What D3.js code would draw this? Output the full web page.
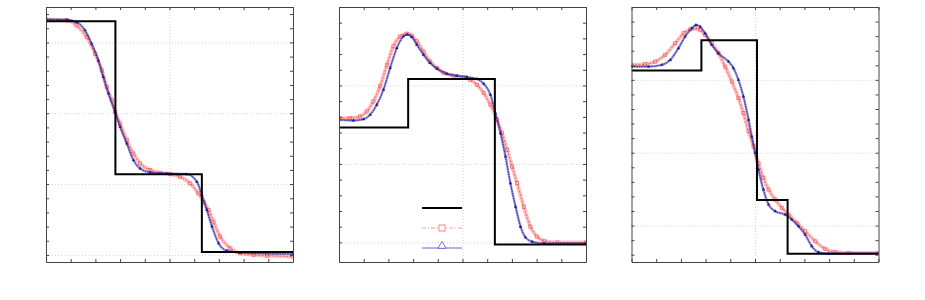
<!DOCTYPE html>
<html>
<head>
<meta charset="utf-8">
<script src="https://cdn.jsdelivr.net/npm/d3@7"></script>
<style>
  body { margin: 0; background: #fff; }
  .axis path, .axis line { stroke: #444; }
  .grid line { stroke: #d4d4d4; stroke-dasharray: 1,2; }
  .grid path { display: none; }
</style>
</head>
<body>
<svg width="925" height="300"></svg>
<script>
// x positions shared by all panels (0..1)
var xTicks = [0, 0.1, 0.2, 0.3, 0.4, 0.5, 0.6, 0.7, 0.8, 0.9, 1];
var xGrid = [0.5];

// panel 1
var p1Domain = [-0.05, 1.75];
var p1Ticks = [0, 0.1, 0.2, 0.3, 0.4, 0.5, 0.6, 0.7, 0.8, 0.9, 1, 1.1, 1.2, 1.3, 1.4, 1.5, 1.6, 1.7];
var p1Grid = [0, 0.5, 1, 1.5];
var p1ExactX = [0, 0.281, 0.631, 1];
var p1ExactY = [1.65, 0.57, 0.021, 0.021];
var p1RedX = [0, 0.084, 0.124, 0.165, 0.199, 0.226, 0.246, 0.266, 0.280, 0.300, 0.327, 0.354, 0.381, 0.422, 0.462, 0.503, 0.543, 0.584, 0.617, 0.638, 0.658, 0.678, 0.705, 0.746, 0.786, 0.840, 0.895, 1.0];
var p1RedY = [1.662, 1.655, 1.620, 1.537, 1.420, 1.303, 1.185, 1.092, 1.009, 0.927, 0.810, 0.716, 0.646, 0.599, 0.580, 0.570, 0.552, 0.505, 0.434, 0.376, 0.317, 0.235, 0.129, 0.047, 0.012, 0.0, -0.005, -0.012];
var p1BlueX = [0, 0.084, 0.124, 0.158, 0.185, 0.212, 0.232, 0.253, 0.280, 0.300, 0.327, 0.354, 0.381, 0.422, 0.489, 0.570, 0.611, 0.631, 0.651, 0.672, 0.699, 0.732, 0.786, 1.0];
var p1BlueY = [1.662, 1.660, 1.643, 1.585, 1.491, 1.373, 1.256, 1.139, 1.009, 0.904, 0.786, 0.669, 0.610, 0.582, 0.575, 0.570, 0.516, 0.423, 0.317, 0.200, 0.082, 0.030, 0.016, 0.007];

// panel 2
var p2Domain = [-0.125, 1.5];
var p2Ticks = [0, 0.1, 0.2, 0.3, 0.4, 0.5, 0.6, 0.7, 0.8, 0.9, 1, 1.1, 1.2, 1.3, 1.4];
var p2Grid = [0, 0.5, 1];
var p2ExactX = [0, 0.280, 0.631, 1];
var p2ExactY = [0.732, 1.041, -0.013, -0.013];
var p2RedX = [0, 0.045, 0.085, 0.112, 0.139, 0.166, 0.194, 0.220, 0.248, 0.275, 0.295, 0.315, 0.342, 0.369, 0.397, 0.424, 0.464, 0.505, 0.532, 0.559, 0.586, 0.613, 0.640, 0.660, 0.681, 0.701, 0.721, 0.748, 0.775, 0.802, 0.830, 0.884, 1.0];
var p2RedY = [0.792, 0.792, 0.802, 0.834, 0.898, 0.994, 1.132, 1.249, 1.313, 1.330, 1.317, 1.281, 1.217, 1.153, 1.111, 1.079, 1.062, 1.051, 1.036, 1.004, 0.951, 0.877, 0.781, 0.696, 0.589, 0.483, 0.377, 0.227, 0.100, 0.036, 0.010, 0.0, 0.0];
var p2BlueX = [0, 0.058, 0.099, 0.126, 0.153, 0.180, 0.207, 0.234, 0.261, 0.277, 0.295, 0.315, 0.342, 0.369, 0.397, 0.437, 0.478, 0.518, 0.559, 0.586, 0.613, 0.633, 0.654, 0.674, 0.694, 0.715, 0.735, 0.755, 0.782, 0.830, 1.0];
var p2BlueY = [0.781, 0.777, 0.785, 0.813, 0.877, 0.973, 1.111, 1.238, 1.313, 1.324, 1.309, 1.260, 1.196, 1.143, 1.107, 1.075, 1.062, 1.054, 1.041, 1.011, 0.941, 0.824, 0.696, 0.547, 0.377, 0.227, 0.100, 0.032, 0.004, -0.006, -0.006];

// panel 3
var p3Domain = [0.25, 2.0];
var p3Ticks = [0.3, 0.4, 0.5, 0.6, 0.7, 0.8, 0.9, 1, 1.1, 1.2, 1.3, 1.4, 1.5, 1.6, 1.7, 1.8, 1.9];
var p3Grid = [0.5, 1, 1.5];
var p3ExactX = [0, 0.283, 0.508, 0.632, 1];
var p3ExactY = [1.564, 1.772, 0.676, 0.306, 0.306];
var p3RedX = [0, 0.055, 0.096, 0.136, 0.177, 0.211, 0.238, 0.258, 0.278, 0.298, 0.325, 0.352, 0.379, 0.406, 0.433, 0.453, 0.474, 0.494, 0.514, 0.534, 0.555, 0.582, 0.609, 0.636, 0.670, 0.703, 0.744, 0.784, 0.825, 0.879, 1.0];
var p3RedY = [1.603, 1.607, 1.625, 1.671, 1.751, 1.820, 1.847, 1.854, 1.842, 1.808, 1.751, 1.683, 1.591, 1.488, 1.375, 1.272, 1.146, 1.043, 0.929, 0.827, 0.747, 0.678, 0.621, 0.575, 0.518, 0.461, 0.392, 0.340, 0.317, 0.313, 0.313];
var p3BlueX = [0, 0.069, 0.123, 0.157, 0.190, 0.217, 0.244, 0.261, 0.278, 0.298, 0.325, 0.352, 0.393, 0.413, 0.433, 0.453, 0.474, 0.487, 0.501, 0.514, 0.534, 0.555, 0.582, 0.622, 0.649, 0.676, 0.703, 0.730, 0.757, 0.797, 1.0];
var p3BlueY = [1.591, 1.591, 1.603, 1.637, 1.717, 1.797, 1.854, 1.877, 1.865, 1.820, 1.740, 1.683, 1.625, 1.580, 1.500, 1.386, 1.226, 1.112, 0.998, 0.884, 0.747, 0.644, 0.598, 0.575, 0.541, 0.495, 0.438, 0.358, 0.317, 0.308, 0.308];

function zip(xs, ys) { return xs.map(function(x, i) { return {x: x, y: ys[i]}; }); }

var panels = [
  {left: 46,    domain: p1Domain, ticks: p1Ticks, grid: p1Grid, exact: zip(p1ExactX, p1ExactY), red: zip(p1RedX, p1RedY), blue: zip(p1BlueX, p1BlueY)},
  {left: 339,   domain: p2Domain, ticks: p2Ticks, grid: p2Grid, exact: zip(p2ExactX, p2ExactY), red: zip(p2RedX, p2RedY), blue: zip(p2BlueX, p2BlueY), legend: true},
  {left: 631.5, domain: p3Domain, ticks: p3Ticks, grid: p3Grid, exact: zip(p3ExactX, p3ExactY), red: zip(p3RedX, p3RedY), blue: zip(p3BlueX, p3BlueY)}
];

var svg = d3.select("svg"),
    top0 = 7,
    w = 247,
    h = 255;

var redColor = "#ff2a2a",
    blueColor = "#1c1c9a";

panels.forEach(function(p, k) {
  var g = svg.append("g").attr("transform", "translate(" + p.left + "," + top0 + ")");
  var x = d3.scaleLinear().domain([0, 1]).range([0, w]);
  var y = d3.scaleLinear().domain(p.domain).range([h, 0]);

  g.append("rect").attr("width", w).attr("height", h).attr("fill", "#fff");

  // dotted grid
  g.append("g")
      .attr("class", "grid")
      .attr("transform", "translate(0," + h + ")")
      .call(d3.axisBottom(x).tickValues(xGrid).tickSize(-h).tickFormat(""));
  g.append("g")
      .attr("class", "grid")
      .call(d3.axisLeft(y).tickValues(p.grid).tickSize(-w).tickFormat(""));

  g.append("clipPath").attr("id", "clip" + k)
    .append("rect").attr("width", w).attr("height", h);
  var plot = g.append("g").attr("clip-path", "url(#clip" + k + ")");

  var line = d3.line()
      .x(function(d) { return x(d.x); })
      .y(function(d) { return y(d.y); })
      .curve(d3.curveMonotoneX);

  // red: dense squares look like a soft band
  plot.append("path")
      .datum(p.red)
      .attr("fill", "none")
      .attr("stroke", redColor)
      .attr("stroke-opacity", 0.3)
      .attr("stroke-width", 3.8)
      .attr("d", line);
  plot.append("path")
      .datum(p.red)
      .attr("fill", "none")
      .attr("stroke", redColor)
      .attr("stroke-opacity", 0.8)
      .attr("stroke-width", 0.8)
      .attr("stroke-dasharray", "2,1.5")
      .attr("d", line);
  plot.append("g")
    .selectAll("rect")
    .data(p.red)
    .enter().append("rect")
      .attr("x", function(d) { return x(d.x) - 1.6; })
      .attr("y", function(d) { return y(d.y) - 1.6; })
      .attr("width", 3.2)
      .attr("height", 3.2)
      .attr("fill", "none")
      .attr("stroke", redColor)
      .attr("stroke-opacity", 0.6)
      .attr("stroke-width", 0.7);

  // blue: triangles on solid line
  plot.append("path")
      .datum(p.blue)
      .attr("fill", "none")
      .attr("stroke", blueColor)
      .attr("stroke-opacity", 0.45)
      .attr("stroke-width", 2.4)
      .attr("d", line);
  plot.append("path")
      .datum(p.blue)
      .attr("fill", "none")
      .attr("stroke", blueColor)
      .attr("stroke-width", 0.9)
      .attr("stroke-dasharray", "1.5,1")
      .attr("d", line);
  plot.append("g")
    .selectAll("path")
    .data(p.blue)
    .enter().append("path")
      .attr("transform", function(d) { return "translate(" + x(d.x) + "," + y(d.y) + ")"; })
      .attr("d", d3.symbol().type(d3.symbolTriangle).size(5))
      .attr("fill", blueColor);

  // exact solution
  plot.append("path")
      .datum(p.exact)
      .attr("fill", "none")
      .attr("stroke", "#000")
      .attr("stroke-width", 2)
      .attr("d", d3.line()
        .x(function(d) { return x(d.x); })
        .y(function(d) { return y(d.y); })
        .curve(d3.curveStepAfter));

  // box with inward ticks on all sides
  g.append("g").attr("class", "axis")
      .attr("transform", "translate(0," + h + ")")
      .call(d3.axisBottom(x).tickValues(xTicks).tickSizeInner(-3).tickSizeOuter(0).tickFormat(""));
  g.append("g").attr("class", "axis")
      .call(d3.axisTop(x).tickValues(xTicks).tickSizeInner(-3).tickSizeOuter(0).tickFormat(""));
  g.append("g").attr("class", "axis")
      .call(d3.axisLeft(y).tickValues(p.ticks).tickSizeInner(-3).tickSizeOuter(0).tickFormat(""));
  g.append("g").attr("class", "axis")
      .attr("transform", "translate(" + w + ",0)")
      .call(d3.axisRight(y).tickValues(p.ticks).tickSizeInner(-3).tickSizeOuter(0).tickFormat(""));

  if (p.legend) {
    var lg = g.append("g").attr("transform", "translate(83,201)");
    lg.append("line").attr("x1", 0).attr("x2", 40).attr("y1", 0).attr("y2", 0)
      .attr("stroke", "#000").attr("stroke-width", 2);
    lg.append("line").attr("x1", 0).attr("x2", 40).attr("y1", 20).attr("y2", 20)
      .attr("stroke", redColor).attr("stroke-opacity", 0.6).attr("stroke-width", 0.8)
      .attr("stroke-dasharray", "4,2,1,2");
    lg.append("rect").attr("x", 17).attr("y", 17).attr("width", 6).attr("height", 6)
      .attr("fill", "#fff").attr("stroke", redColor).attr("stroke-opacity", 0.7).attr("stroke-width", 0.8);
    lg.append("line").attr("x1", 0).attr("x2", 40).attr("y1", 40).attr("y2", 40)
      .attr("stroke", "#5555cc").attr("stroke-width", 0.9);
    lg.append("path")
      .attr("transform", "translate(20,38)")
      .attr("d", d3.symbol().type(d3.symbolTriangle).size(28))
      .attr("fill", "#fff").attr("stroke", "#5555cc").attr("stroke-width", 0.8);
  }
});
</script>
</body>
</html>
